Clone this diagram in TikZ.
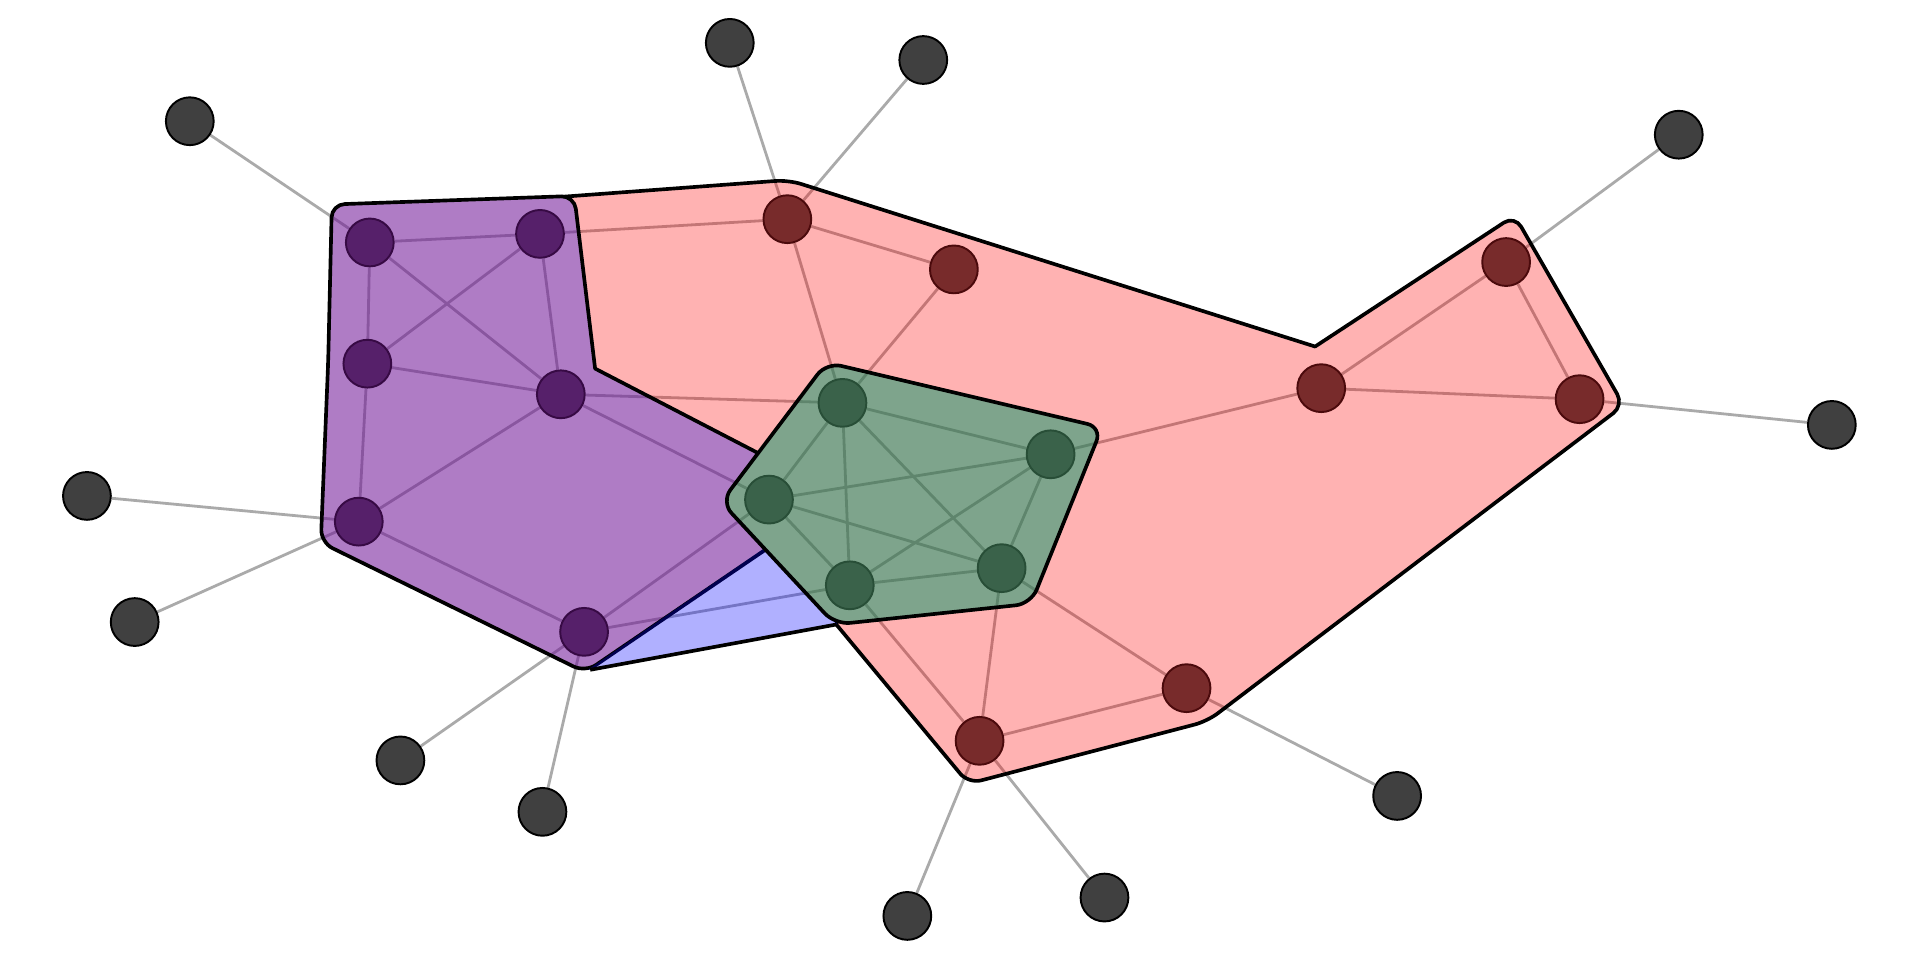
\documentclass[tikz,border=0pt]{standalone}
\usetikzlibrary{backgrounds}

\definecolor{purnode}{RGB}{86,32,106}
\definecolor{purline}{RGB}{55,10,68}
\definecolor{rednode}{RGB}{120,43,43}
\definecolor{redline}{RGB}{75,10,12}
\definecolor{grnnode}{RGB}{58,98,74}
\definecolor{grnline}{RGB}{40,78,55}
\definecolor{outnode}{RGB}{64,64,64}
\definecolor{conngray}{RGB}{170,170,170}
\definecolor{purfill}{RGB}{111,17,151}
\definecolor{grnfill}{RGB}{52,113,74}

\tikzset{
  vert/.style={circle, minimum size=0.39cm, inner sep=0pt, line width=0.45pt},
  purvert/.style={vert, fill=purnode, draw=purline},
  redvert/.style={vert, fill=rednode, draw=redline},
  grnvert/.style={vert, fill=grnnode, draw=grnline},
  outvert/.style={vert, fill=outnode, draw=black},
  conn/.style={conngray, line width=0.65pt},
  hullline/.style={black, line width=0.85pt, line join=round},
}

% every connector, drawn once below the hulls and again in each knock-out
\newcommand{\alllinks}{%
  \foreach \a/\b in {out1/pur1, out2/red1, out3/red1, out4/red4, out5/red5,
      out6/pur5, out7/pur5, out8/pur6, out9/pur6, out10/red7, out11/red7,
      out12/red6,
      pur1/pur2, pur1/pur3, pur1/pur4, pur2/pur3, pur2/pur4, pur3/pur4,
      pur3/pur5, pur4/pur5, pur5/pur6, pur6/grn3, pur4/grn3, pur6/grn5,
      pur4/grn1, pur2/red1,
      red1/red2, red1/grn1, red2/grn1, grn2/red3, red3/red4, red3/red5,
      red4/red5, grn4/red6, red6/red7, red7/grn4, red7/grn5,
      grn1/grn2, grn1/grn3, grn1/grn4, grn1/grn5, grn2/grn3, grn2/grn4,
      grn2/grn5, grn3/grn4, grn3/grn5, grn4/grn5}
    \draw[conn] (\a) -- (\b);}

\newcommand{\redhull}{(455,161) [rounded corners=3pt] -- (644,147)
  [sharp corners] -- (1074,283) [rounded corners=3pt] -- (1237,176)
  -- (1326,331) -- (986,589) -- (791,640) [sharp corners] -- (683,510)
  -- (690,480) -- (640,385) -- (560,350) -- (480,320) -- (465,250) -- cycle}
\newcommand{\purhull}{[rounded corners=3pt] (271,167) -- (469,160)
  [sharp corners] -- (486,301) [rounded corners=3pt] -- (650,386)
  -- (650,432) -- (478,549) -- (262,443) -- (268,296) -- cycle}
\newcommand{\bluehull}{(480,547) -- (683,510) -- (700,470) -- (660,423) -- cycle}
\newcommand{\grnhull}{[rounded corners=3.5pt] (675,296) -- (900,349)
  -- (842,493) -- (682,510) -- (589,410) -- cycle}

\newcommand{\knockout}[1]{%
  \begin{scope}
    \clip #1;
    \fill[white] (0,0) rectangle (1568,784);
    \alllinks
  \end{scope}}

\pgfdeclarelayer{background}
\pgfsetlayers{background,main}

\begin{document}
\begin{tikzpicture}[x=0.01cm, y=-0.01cm]
  \useasboundingbox (0,0) rectangle (1568,784);

  % purple group
  \node[purvert] (pur1) at (302,198) {};
  \node[purvert] (pur2) at (441,191) {};
  \node[purvert] (pur3) at (300,297) {};
  \node[purvert] (pur4) at (458,322) {};
  \node[purvert] (pur5) at (293,426) {};
  \node[purvert] (pur6) at (477,516) {};

  % red group
  \node[redvert] (red1) at (643,179) {};
  \node[redvert] (red2) at (779,220) {};
  \node[redvert] (red3) at (1079,317) {};
  \node[redvert] (red4) at (1230,214) {};
  \node[redvert] (red5) at (1290,326) {};
  \node[redvert] (red6) at (969,562) {};
  \node[redvert] (red7) at (800,605) {};

  % green group
  \node[grnvert] (grn1) at (688,329) {};
  \node[grnvert] (grn2) at (858,371) {};
  \node[grnvert] (grn3) at (628,408) {};
  \node[grnvert] (grn4) at (818,464) {};
  \node[grnvert] (grn5) at (694,478) {};

  % outer vertices
  \node[outvert] (out1) at (155,99) {};
  \node[outvert] (out2) at (596,35) {};
  \node[outvert] (out3) at (754,49) {};
  \node[outvert] (out4) at (1371,110) {};
  \node[outvert] (out5) at (1496,347) {};
  \node[outvert] (out6) at (71,405) {};
  \node[outvert] (out7) at (110,508) {};
  \node[outvert] (out8) at (327,621) {};
  \node[outvert] (out9) at (443,663) {};
  \node[outvert] (out10) at (741,748) {};
  \node[outvert] (out11) at (902,733) {};
  \node[outvert] (out12) at (1141,650) {};

  \begin{pgfonlayer}{background}
    \alllinks
    \fill[red, opacity=.3] \redhull;
    \draw[hullline] \redhull;
    \knockout{\purhull}
    \fill[purfill, opacity=.55] \purhull;
    \draw[hullline] \purhull;
    \fill[blue, opacity=.31] \bluehull;
    \draw[hullline] (482,547) -- (683,510);
    \knockout{\grnhull}
    \fill[grnfill, opacity=.635] \grnhull;
    \draw[hullline] \grnhull;
  \end{pgfonlayer}
\end{tikzpicture}
\end{document}
